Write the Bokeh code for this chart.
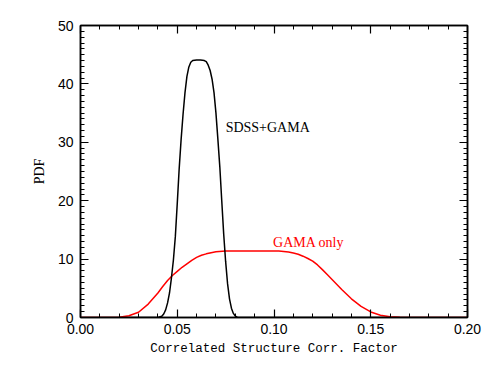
from bokeh.plotting import figure
from bokeh.models import Range1d, LinearAxis, SingleIntervalTicker, PrintfTickFormatter
from bokeh.core.properties import value
from bokeh.embed import file_html
from bokeh.resources import INLINE

# SDSS+GAMA PDF (black)
sdss_x = [0.000, 0.030, 0.040, 0.042, 0.043, 0.044, 0.045, 0.046, 0.047, 0.048, 0.049,
          0.050, 0.051, 0.052, 0.053, 0.054, 0.055, 0.056, 0.057, 0.058, 0.060, 0.062,
          0.064, 0.065, 0.066, 0.067, 0.068, 0.069, 0.070, 0.071, 0.072, 0.073, 0.074,
          0.075, 0.076, 0.077, 0.078, 0.079, 0.080, 0.081, 0.082, 0.090, 0.200]
sdss_y = [0.0, 0.0, 0.0, 0.2, 0.6, 1.3, 2.5, 4.2, 6.8, 9.8, 13.8,
          19.5, 25.5, 30.5, 34.8, 38.5, 41.3, 42.9, 43.7, 44.0, 44.1, 44.1,
          44.0, 43.8, 43.2, 42.3, 40.8, 38.5, 35.0, 30.5, 25.8, 20.0, 14.3,
          9.6, 5.8, 3.2, 1.6, 0.7, 0.25, 0.05, 0.0, 0.0, 0.0]

# GAMA only PDF (red)
gama_x = [0.000, 0.010, 0.015, 0.020, 0.025, 0.030, 0.035, 0.040, 0.0425, 0.045, 0.0475,
          0.050, 0.0525, 0.055, 0.0575, 0.060, 0.0625, 0.065, 0.0675, 0.070, 0.075, 0.080,
          0.090, 0.100, 0.1025, 0.105, 0.1075, 0.110, 0.1125, 0.115, 0.1175, 0.120, 0.1225,
          0.125, 0.1275, 0.130, 0.135, 0.140, 0.145, 0.150, 0.155, 0.160, 0.165, 0.170, 0.180, 0.200]
gama_y = [0.0, 0.0, 0.01, 0.05, 0.3, 0.9, 2.3, 4.2, 5.3, 6.35, 7.2,
          7.9, 8.6, 9.2, 9.8, 10.3, 10.65, 10.9, 11.1, 11.25, 11.4, 11.4,
          11.4, 11.4, 11.38, 11.32, 11.22, 11.05, 10.82, 10.5, 10.1, 9.65, 9.0,
          8.2, 7.35, 6.5, 4.8, 3.2, 1.9, 0.95, 0.4, 0.12, 0.03, 0.0, 0.0, 0.0]

labels_text = ["SDSS+GAMA", "GAMA only"]
labels_x = [0.075, 0.0995]
labels_y = [32.5, 12.8]
labels_color = ["black", "red"]

p = figure(output_backend="svg", toolbar_location=None,
           frame_width=387, frame_height=292,
           min_border_left=80, min_border_right=24, min_border_top=25, min_border_bottom=51,
           x_range=Range1d(0, 0.2), y_range=Range1d(0, 50),
           x_axis_type=None, y_axis_type=None)
p.grid.visible = False
p.outline_line_color = "black"
p.outline_line_width = 1.5
p.background_fill_color = "white"
p.border_fill_color = "white"

def make_axis(kind, labels):
    if kind == "x":
        t = SingleIntervalTicker(interval=0.05, num_minor_ticks=5)
    else:
        t = SingleIntervalTicker(interval=10, num_minor_ticks=10)
    a = LinearAxis(ticker=t)
    a.major_tick_in = 8
    a.major_tick_out = 0
    a.minor_tick_in = 4
    a.minor_tick_out = 0
    a.axis_line_width = 1.5
    a.major_tick_line_width = 1.2
    a.minor_tick_line_width = 1.0
    a.axis_line_color = "black"
    a.major_tick_line_color = "black"
    a.minor_tick_line_color = "black"
    if labels:
        a.major_label_text_font = "Liberation Sans"
        a.major_label_text_font_size = "14px"
        a.major_label_text_color = "black"
        if kind == "x":
            a.formatter = PrintfTickFormatter(format="%.2f")
            a.major_label_standoff = 6
        else:
            a.major_label_standoff = 7
    else:
        a.major_label_text_font_size = "0px"
        a.major_label_text_alpha = 0
    return a

xb = make_axis("x", True)
xb.axis_label = "Correlated Structure Corr. Factor"
xb.axis_label_text_font = "Liberation Mono"
xb.axis_label_text_font_size = "12.5px"
xb.axis_label_text_font_style = "normal"
xb.axis_label_text_color = "black"
xb.axis_label_standoff = 5
p.add_layout(xb, "below")

yl = make_axis("y", True)
yl.axis_label = "PDF"
yl.axis_label_text_font = "Liberation Serif"
yl.axis_label_text_font_size = "14px"
yl.axis_label_text_font_style = "normal"
yl.axis_label_text_color = "black"
yl.axis_label_standoff = 8
p.add_layout(yl, "left")

p.add_layout(make_axis("x", False), "above")
p.add_layout(make_axis("y", False), "right")

p.line(gama_x, gama_y, line_color="#ff0000", line_width=1.5)
p.line(sdss_x, sdss_y, line_color="black", line_width=1.5)

for t, x, y, c in zip(labels_text, labels_x, labels_y, labels_color):
    p.text(x=[x], y=[y], text=[t], text_color=c,
           text_font=value("Liberation Serif"), text_font_size="14px",
           text_align="left", text_baseline="middle")

open("out.html", "w").write(file_html(p, INLINE))
